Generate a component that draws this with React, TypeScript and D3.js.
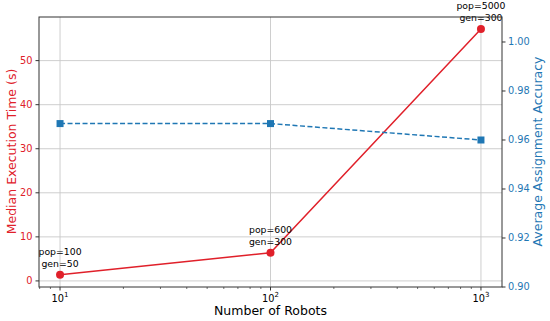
import React from 'react';
import * as d3 from 'd3';

const WIDTH = 550;
const HEIGHT = 321;
const margin = { top: 17, right: 48, bottom: 34, left: 39 };

const RED = '#e0202a';
const BLUE = '#1f77b4';

const robots = [10, 100, 1000];
const medianTimes = [1.4, 6.4, 57.2];
const accuracy = [0.9667, 0.9667, 0.96];
const popLabels = ['pop=100', 'pop=600', 'pop=5000'];
const genLabels = ['gen=50', 'gen=300', 'gen=300'];
const leftTicks = [0, 10, 20, 30, 40, 50];
const rightTicks = [0.9, 0.92, 0.94, 0.96, 0.98, 1.0];
const xMajor = [10, 100, 1000];
const xExponents = ['1', '2', '3'];

const FONT = 'DejaVu Sans, sans-serif';

export default function App() {
  const innerW = WIDTH - margin.left - margin.right;
  const innerH = HEIGHT - margin.top - margin.bottom;

  const x = d3.scaleLog().domain([Math.pow(10, 0.9), Math.pow(10, 3.1)]).range([0, innerW]);
  const yL = d3.scaleLinear().domain([-1.38, 59.9]).range([innerH, 0]);
  const yR = d3.scaleLinear().domain([0.9, 1.0102]).range([innerH, 0]);

  const minor: number[] = [];
  [1, 10, 100].forEach(base => {
    for (let k = 2; k <= 9; k++) {
      const v = base * k;
      if (v >= x.domain()[0] && v <= x.domain()[1]) minor.push(v);
    }
  });

  const redLine = d3.line<number>().x((_, i) => x(robots[i])).y(d => yL(d));
  const blueLine = d3.line<number>().x((_, i) => x(robots[i])).y(d => yR(d));

  return (
    <svg width={WIDTH} height={HEIGHT} style={{ position: 'absolute', left: 0, top: 0 }} fontFamily={FONT}>
      <rect width={WIDTH} height={HEIGHT} fill="#fff" />
      <g transform={`translate(${margin.left},${margin.top})`}>
        {/* grid */}
        {xMajor.map(v => (
          <line key={'gx' + v} x1={x(v)} x2={x(v)} y1={0} y2={innerH} stroke="#c8c8c8" strokeWidth={0.9} />
        ))}
        {leftTicks.map(v => (
          <line key={'gy' + v} x1={0} x2={innerW} y1={yL(v)} y2={yL(v)} stroke="#c8c8c8" strokeWidth={0.9} />
        ))}

        {/* red series */}
        <path d={redLine(medianTimes) || ''} fill="none" stroke={RED} strokeWidth={1.5} />
        {medianTimes.map((d, i) => (
          <circle key={'c' + i} cx={x(robots[i])} cy={yL(d)} r={4} fill={RED} />
        ))}

        {/* blue series */}
        <path d={blueLine(accuracy) || ''} fill="none" stroke={BLUE} strokeWidth={1.5} strokeDasharray="5,2.5" />
        {accuracy.map((d, i) => (
          <rect key={'s' + i} x={x(robots[i]) - 3.5} y={yR(d) - 3.5} width={7} height={7} fill={BLUE} />
        ))}

        {/* annotations */}
        {medianTimes.map((d, i) => (
          <text key={'a' + i} x={x(robots[i])} y={yL(d) - 19.5} textAnchor="middle" fontSize={9.3} fill="#000">
            <tspan x={x(robots[i])}>{popLabels[i]}</tspan>
            <tspan x={x(robots[i])} dy={11.5}>{genLabels[i]}</tspan>
          </text>
        ))}

        {/* frame */}
        <rect x={0} y={0} width={innerW} height={innerH} fill="none" stroke="#333" strokeWidth={1} />

        {/* x axis */}
        {xMajor.map((v, i) => (
          <g key={'xt' + v} transform={`translate(${x(v)},${innerH})`}>
            <line y2={3.5} stroke="#333" />
            <text y={14.5} textAnchor="middle" fontSize={9.8} fill="#000">
              10<tspan fontSize={7} dy={-4.5}>{xExponents[i]}</tspan>
            </text>
          </g>
        ))}
        {minor.map(v => (
          <line key={'xm' + v} x1={x(v)} x2={x(v)} y1={innerH} y2={innerH + 2} stroke="#333" strokeWidth={0.7} />
        ))}
        <text x={innerW / 2} y={innerH + 28} textAnchor="middle" fontSize={12.5} fill="#000">Number of Robots</text>

        {/* left axis */}
        {leftTicks.map(v => (
          <g key={'yl' + v} transform={`translate(0,${yL(v)})`}>
            <line x2={-3.5} stroke="#333" />
            <text x={-6.5} dy="0.34em" textAnchor="end" fontSize={9.8} fill={RED}>{v}</text>
          </g>
        ))}
        <text transform={`translate(${12 - margin.left},${innerH / 2 - 0.5}) rotate(-90)`} textAnchor="middle" dy="0.35em" fontSize={12.5} fill={RED}>
          Median Execution Time (s)
        </text>

        {/* right axis */}
        {rightTicks.map(v => (
          <g key={'yr' + v} transform={`translate(${innerW},${yR(v)})`}>
            <line x2={3.5} stroke="#333" />
            <text x={6} dy="0.34em" textAnchor="start" fontSize={9.8} fill={BLUE}>{v.toFixed(2)}</text>
          </g>
        ))}
        <text transform={`translate(${538 - margin.left},${innerH / 2 - 0.5}) rotate(-90)`} textAnchor="middle" dy="0.35em" fontSize={12.5} fill={BLUE}>
          Average Assignment Accuracy
        </text>
      </g>
    </svg>
  );
}
